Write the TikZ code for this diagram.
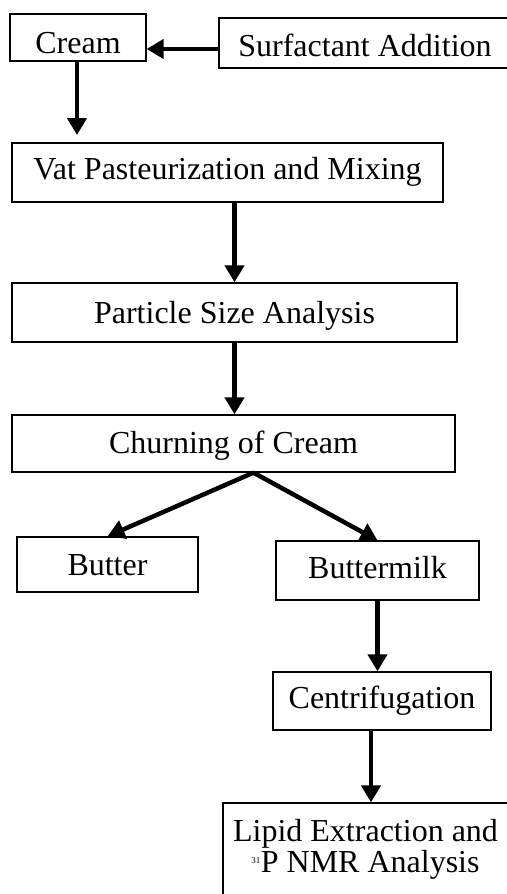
\documentclass[tikz,border=0pt]{standalone}
\usepackage{fontspec}
\setmainfont{Liberation Serif}
\usetikzlibrary{arrows.meta}
\begin{document}
\begin{tikzpicture}[x=1pt,y=-1pt,
  box/.style={draw=black,line width=1.3pt,inner sep=0pt,font=\fontsize{32}{31}\selectfont,text height=21pt,text depth=0pt},
  flow/.style={line width=4.5pt,-{Triangle[length=17pt,width=19pt]}}]
\useasboundingbox (0,0) rectangle (506,894);
\node[box,minimum width=136pt,minimum height=47pt,text height=31pt] (cream) at (78,37.5) {Cream};
\node[box,minimum width=292pt,minimum height=50pt,text height=26pt] (surf) at (365,43) {Surfactant Addition};
\node[box,minimum width=431pt,minimum height=59pt,text depth=8pt] (vat) at (227.5,172.5) {Vat Pasteurization and Mixing};
\node[box,minimum width=445pt,minimum height=59pt] (particle) at (234.5,312.5) {Particle Size Analysis};
\node[box,minimum width=443pt,minimum height=57pt,text depth=2pt] (churn) at (233.5,443.5) {Churning of Cream};
\node[box,minimum width=181pt,minimum height=55pt] (butter) at (107.5,564.5) {Butter};
\node[box,minimum width=203pt,minimum height=59pt,text depth=6pt] (bmilk) at (377.5,570.5) {Buttermilk};
\node[box,minimum width=218pt,minimum height=58pt,text depth=6pt] (centri) at (382,701) {Centrifugation};
\node[draw=black,line width=1.3pt,inner sep=0pt,font=\fontsize{32}{31}\selectfont,align=center,minimum width=285pt,minimum height=92pt] (lipid) at (365.5,849) {Lipid Extraction and\\\textsuperscript{\fontsize{9}{9}\selectfont 31}P NMR Analysis};
\coordinate (creamend) at (77,135);
\draw[flow] ([yshift=-6pt]surf.west) -- ([yshift=-6pt]surf.west -| cream.east);
\draw[flow] (cream.south -| creamend) -- (creamend);
\draw[flow] (particle.north |- vat.south) -- (particle.north);
\draw[flow] (particle.south) -- (particle.south |- churn.north);
\draw[flow] ([xshift=20pt]churn.south) -- (butter.north);
\draw[flow] ([xshift=20pt]churn.south) -- (bmilk.north);
\draw[flow] (bmilk.south) -- (bmilk.south |- centri.north);
\draw[flow] ([xshift=-11pt]centri.south) -- ([xshift=-11pt]centri.south |- lipid.north);
\end{tikzpicture}
\end{document}
